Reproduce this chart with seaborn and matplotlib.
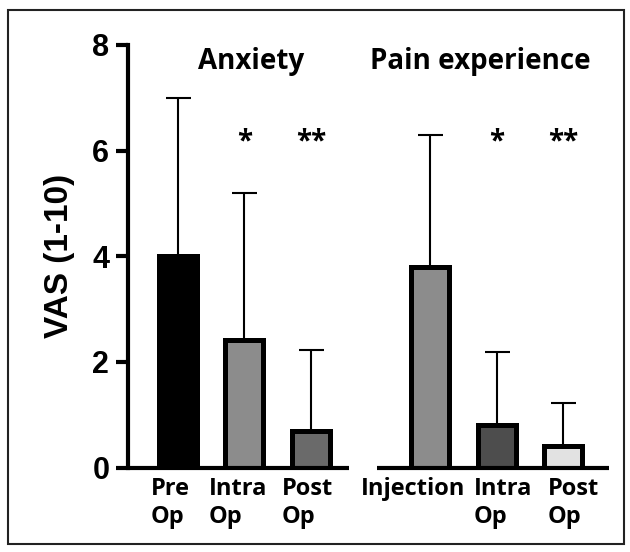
import numpy as np
import pandas as pd
import matplotlib
matplotlib.use("Agg")
import matplotlib.pyplot as plt
from matplotlib.patches import Rectangle
from matplotlib.transforms import ScaledTranslation
import seaborn as sns

# ---- data ----
keys = ["Anx Pre Op", "Anx Intra Op", "Anx Post Op", "Pain Injection", "Pain Intra Op", "Pain Post Op"]
tick_labels = ["Pre\nOp", "Intra\nOp", "Post\nOp", "Injection", "Intra\nOp", "Post\nOp"]
means = [4.0, 2.42, 0.70, 3.79, 0.81, 0.41]
sd_upper = [3.0, 2.78, 1.53, 2.50, 1.37, 0.82]
stars = ["", "*", "**", "", "*", "**"]
group_titles = ["Anxiety", "Pain experience"]

# ---- layout / style ----
positions = [0.0, 1.0, 2.0, 3.78, 4.78, 5.78]
label_shift_px = [-7.5, -6, -3.5, -16.5, 6, 10]
colors = ["#000000", "#8c8c8c", "#6a6a6a", "#8c8c8c", "#4d4d4d", "#e2e2e2"]

sns.set_theme(style="white")
plt.rcParams["font.family"] = ["Liberation Sans", "DejaVu Sans"]
plt.rcParams.update({"text.color": "black", "axes.labelcolor": "black",
                     "xtick.color": "black", "ytick.color": "black"})
lab_font = ["Open Sans", "DejaVu Sans"]

fig = plt.figure(figsize=(6.3, 5.52), dpi=100)
ax = fig.add_axes([128 / 630, 1 - 467.5 / 552, (608.7 - 128) / 630, (467.5 - 45) / 552])

df = pd.DataFrame({"pos": positions, "value": means, "key": keys})
sns.barplot(data=df, x="pos", y="value", hue="key", palette=dict(zip(keys, colors)),
            native_scale=True, dodge=False, legend=False, errorbar=None,
            width=0.57, edgecolor="black", linewidth=3.6, ax=ax, zorder=3)

ax.errorbar(positions, means, yerr=[np.zeros(len(means)), sd_upper], fmt="none",
            ecolor="black", elinewidth=1.5, capsize=9, capthick=1.5, zorder=2)

xmin, xmax = -0.742, 6.46
ax.set_xlim(xmin, xmax)
ax.set_ylim(0, 8)

for s in ["top", "right", "bottom"]:
    ax.spines[s].set_visible(False)
ax.spines["left"].set_linewidth(3)
ax.spines["left"].set_color("black")
for x0, x1 in [(xmin, 2.565), (2.99, xmax)]:
    ax.plot([x0, x1], [0, 0], color="black", linewidth=3, clip_on=False, zorder=4,
            solid_capstyle="butt")

ax.set_yticks([0, 2, 4, 6, 8])
ax.tick_params(axis="y", length=8.5, width=3, color="black", labelsize=22, pad=5, left=True)
for t in ax.get_yticklabels():
    t.set_fontweight("bold")

ax.set_xticks(positions)
ax.set_xticklabels(tick_labels, fontfamily=lab_font, fontweight="bold",
                   fontsize=17, multialignment="left", linespacing=1.2)
ax.tick_params(axis="x", length=0, pad=7)
for lbl, dx in zip(ax.get_xticklabels(), label_shift_px):
    lbl.set_transform(lbl.get_transform() + ScaledTranslation(dx / 100, 0, fig.dpi_scale_trans))

ax.set_xlabel("")
ax.set_ylabel("VAS (1-10)", fontsize=24, fontweight="bold", labelpad=12)

ax.text(1.10, 7.69, group_titles[0], ha="center", va="center", fontsize=20,
        fontweight="bold", family=lab_font)
ax.text(4.53, 7.69, group_titles[1], ha="center", va="center", fontsize=20,
        fontweight="bold", family=lab_font)
for p, s in zip(positions, stars):
    if s:
        ax.text(p, 6.03, s, ha="center", va="baseline", fontsize=20, fontweight="bold",
                family=lab_font)

fig.add_artist(Rectangle((8 / 630, 8 / 552), (624 - 8) / 630, (544 - 10) / 552,
                         transform=fig.transFigure, fill=False, linewidth=1.5,
                         edgecolor="#222222"))

fig.savefig("out.png", dpi=100)
